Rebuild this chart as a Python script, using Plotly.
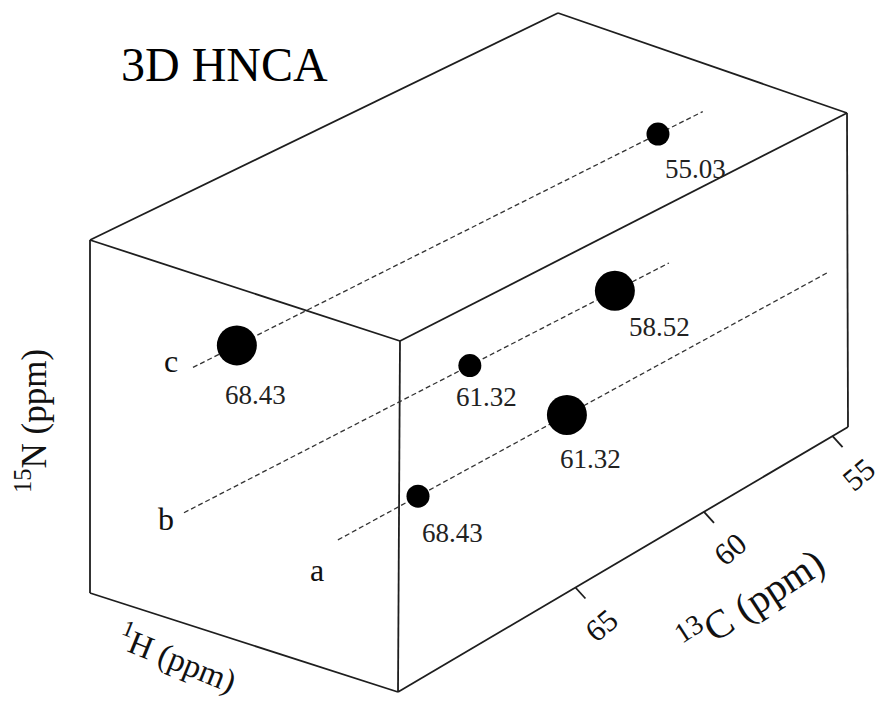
import plotly.graph_objects as go

# ---------------- data ----------------
strip_names = ["a", "b", "c"]
strip_h = [0.80, 0.30, 0.30]          # 1H position across box (fraction)
strip_n = [0.375, 0.31, 0.71]         # 15N position up box (fraction)
strip_depth_start = [0.002, 0.003, 0.022]
strip_depth_end = [1.083, 1.053, 1.126]

peak_strip = ["c", "c", "b", "b", "a", "a"]
peak_labels = ["68.43", "55.03", "61.32", "58.52", "68.43", "61.32"]
peak_depth = [0.117, 1.029, 0.622, 0.936, 0.179, 0.508]
peak_strength = ["strong", "weak", "weak", "strong", "weak", "strong"]

c13_ticks = [65, 60, 55]
c13_front, c13_back = 71.9, 54.4      # 13C ppm at the front / back face

title_text = "3D HNCA"
h_label = "<sup>1</sup>H (ppm)"
n_label = "<sup>15</sup>N (ppm)"
c_label = "<sup>13</sup>C (ppm)"

# ---------------- projection (drawing frame) ----------------
corner = {
    (0, 0, 0): (90, 593), (1, 0, 0): (398, 692),
    (0, 1, 0): (90, 240), (1, 1, 0): (400, 341),
    (0, 0, 1): (557, 360), (1, 0, 1): (848, 427),
    (0, 1, 1): (558, 13), (1, 1, 1): (847, 113),
}


def proj(u, v, w):
    def face(k):
        x = ((1 - u) * (1 - v) * corner[(0, 0, k)][0] + u * (1 - v) * corner[(1, 0, k)][0]
             + (1 - u) * v * corner[(0, 1, k)][0] + u * v * corner[(1, 1, k)][0])
        y = ((1 - u) * (1 - v) * corner[(0, 0, k)][1] + u * (1 - v) * corner[(1, 0, k)][1]
             + (1 - u) * v * corner[(0, 1, k)][1] + u * v * corner[(1, 1, k)][1])
        return x, y
    fx, fy = face(0)
    bx, by = face(1)
    return fx + w * (bx - fx), fy + w * (by - fy)


def c13_depth(ppm):
    return (c13_front - ppm) / (c13_front - c13_back)


FONT = "Liberation Serif, Times New Roman, serif"
fig = go.Figure()

# box edges (visible ones)
edges = [((0, 0, 0), (1, 0, 0)), ((1, 0, 0), (1, 1, 0)), ((1, 1, 0), (0, 1, 0)), ((0, 1, 0), (0, 0, 0)),
         ((0, 1, 0), (0, 1, 1)), ((0, 1, 1), (1, 1, 1)), ((1, 1, 1), (1, 1, 0)),
         ((1, 1, 1), (1, 0, 1)), ((1, 0, 1), (1, 0, 0))]
ex, ey = [], []
for a, b in edges:
    p, q = proj(*a), proj(*b)
    ex += [p[0], q[0], None]
    ey += [p[1], q[1], None]
fig.add_trace(go.Scatter(x=ex, y=ey, mode="lines", line=dict(color="#1e1e1e", width=1.8),
                         hoverinfo="skip", showlegend=False))

# strips
sx, sy = [], []
for i, name in enumerate(strip_names):
    p = proj(strip_h[i], strip_n[i], strip_depth_start[i])
    q = proj(strip_h[i], strip_n[i], strip_depth_end[i])
    sx += [p[0], q[0], None]
    sy += [p[1], q[1], None]
fig.add_trace(go.Scatter(x=sx, y=sy, mode="lines",
                         line=dict(color="#333333", width=1.3, dash="5px,3px"),
                         hoverinfo="skip", showlegend=False))

# strip letters
letter_shift = {"a": (-21, 30), "b": (-18, 6), "c": (-22, -6)}
ann = []
for i, name in enumerate(strip_names):
    p = proj(strip_h[i], strip_n[i], strip_depth_start[i])
    dx, dy = letter_shift[name]
    ann.append(dict(x=p[0] + dx, y=p[1] + dy, text=name, showarrow=False,
                    font=dict(family=FONT, size=32, color="#111")))

# peaks
px, py, ps = [], [], []
label_shift = [(19, 50), (38, 35), (17, 31), (45, 36), (34, 37), (24, 44)]
for k in range(len(peak_labels)):
    i = strip_names.index(peak_strip[k])
    x, y = proj(strip_h[i], strip_n[i], peak_depth[k])
    px.append(x)
    py.append(y)
    ps.append(40 if peak_strength[k] == "strong" else 23)
    dx, dy = label_shift[k]
    ann.append(dict(x=x + dx, y=y + dy, text=peak_labels[k], showarrow=False,
                    font=dict(family=FONT, size=27, color="#222")))
fig.add_trace(go.Scatter(x=px, y=py, mode="markers",
                         marker=dict(size=ps, color="#000000", opacity=1.0,
                                     line=dict(width=0, color="#000000")),
                         opacity=1.0, hoverinfo="skip", showlegend=False))

# 13C ticks along the bottom-right edge
tx, ty = [], []
for t in c13_ticks:
    x, y = proj(1, 0, c13_depth(t))
    tx += [x, x + 10, None]
    ty += [y, y + 11, None]
    ann.append(dict(x=x + 26, y=y + 38, text=str(t), showarrow=False, textangle=-40,
                    font=dict(family=FONT, size=31, color="#111")))
fig.add_trace(go.Scatter(x=tx, y=ty, mode="lines", line=dict(color="#1e1e1e", width=1.8),
                         hoverinfo="skip", showlegend=False))

# axis titles and title
ann.append(dict(x=224, y=64, text=title_text, showarrow=False,
                font=dict(family=FONT, size=48, color="black")))
ann.append(dict(x=31, y=421, text=n_label, showarrow=False, textangle=-90,
                font=dict(family=FONT, size=35, color="#111")))
ann.append(dict(x=178, y=657, text=h_label, showarrow=False, textangle=22,
                font=dict(family=FONT, size=33, color="#111")))
ann.append(dict(x=750, y=600, text=c_label, showarrow=False, textangle=-33,
                font=dict(family=FONT, size=40, color="#111")))

fig.update_layout(
    width=888, height=706, margin=dict(l=0, r=0, t=0, b=0),
    paper_bgcolor="white", plot_bgcolor="white",
    xaxis=dict(range=[0, 888], visible=False, fixedrange=True),
    yaxis=dict(range=[706, 0], visible=False, fixedrange=True),
    annotations=ann, showlegend=False,
)
fig.write_html("out.html")
